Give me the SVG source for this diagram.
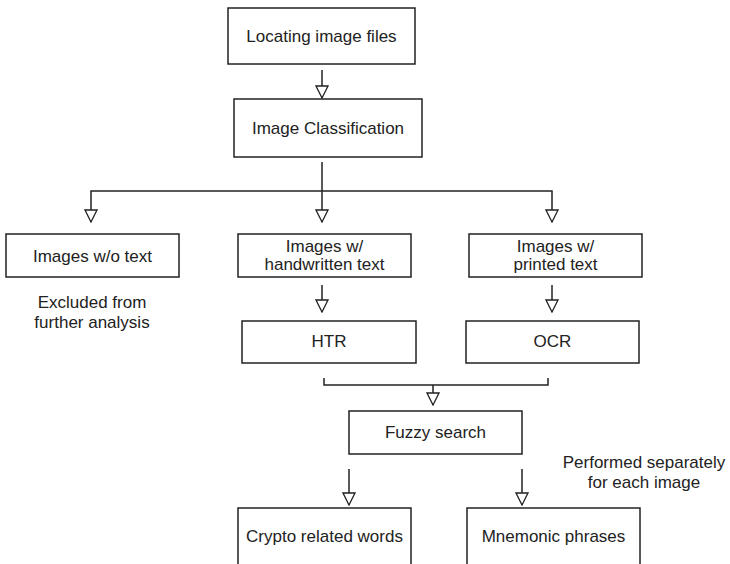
<svg xmlns="http://www.w3.org/2000/svg" width="730" height="564" viewBox="0 0 730 564">
<style>
.box{fill:#fff;stroke:#222;stroke-width:1.5}
.t{font-family:"Liberation Sans",Arial,sans-serif;font-size:17px;fill:#222;text-anchor:middle}
.c{fill:none;stroke:#222;stroke-width:1.5}
.a{marker-end:url(#arr)}
</style>
<defs>
<marker id="arr" markerUnits="userSpaceOnUse" markerWidth="14" markerHeight="14" viewBox="0 0 14 14" refX="13" refY="7" orient="auto">
<path d="M1,1 L13,7 L1,13 Z" fill="#fff" stroke="#222" stroke-width="1.3"/>
</marker>
</defs>
<rect width="730" height="564" fill="#fff"/>
<g id="connectors">
<line class="c a" x1="322" y1="70" x2="322" y2="98"/>
<line class="c a" x1="322" y1="162" x2="322" y2="222"/>
<polyline class="c a" points="322,191 91,191 91,222"/>
<polyline class="c a" points="322,191 552,191 552,222"/>
<line class="c a" x1="322" y1="285" x2="322" y2="312"/>
<line class="c a" x1="552" y1="285" x2="552" y2="312"/>
<polyline class="c" points="324,378 324,385 548,385 548,378"/>
<line class="c a" x1="433" y1="385" x2="433" y2="405"/>
<line class="c a" x1="349" y1="469" x2="349" y2="505"/>
<line class="c a" x1="522" y1="469" x2="522" y2="505"/>
</g>
<g id="locating">
<rect class="box" x="228" y="8" width="187" height="56"/>
<text class="t" x="321.5" y="42">Locating image files</text>
</g>
<g id="classification">
<rect class="box" x="234" y="99" width="188" height="58"/>
<text class="t" x="328" y="134">Image Classification</text>
</g>
<g id="no-text">
<rect class="box" x="6" y="234" width="173" height="43"/>
<text class="t" x="92.5" y="262">Images w/o text</text>
</g>
<g id="excluded-note">
<text class="t" x="92" y="308">Excluded from</text>
<text class="t" x="92" y="328">further analysis</text>
</g>
<g id="handwritten">
<rect class="box" x="238" y="234" width="173" height="43"/>
<text class="t" x="324.5" y="252">Images w/</text>
<text class="t" x="324.5" y="270">handwritten text</text>
</g>
<g id="printed">
<rect class="box" x="469" y="234" width="173" height="43"/>
<text class="t" x="555.5" y="252">Images w/</text>
<text class="t" x="555.5" y="270">printed text</text>
</g>
<g id="htr">
<rect class="box" x="242" y="321" width="174" height="42"/>
<text class="t" x="329" y="347">HTR</text>
</g>
<g id="ocr">
<rect class="box" x="466" y="321" width="173" height="42"/>
<text class="t" x="552.5" y="347">OCR</text>
</g>
<g id="fuzzy">
<rect class="box" x="349" y="411" width="173" height="43"/>
<text class="t" x="435.5" y="438">Fuzzy search</text>
</g>
<g id="performed-note">
<text class="t" x="644" y="468">Performed separately</text>
<text class="t" x="644" y="488">for each image</text>
</g>
<g id="crypto">
<rect class="box" x="238" y="508" width="173" height="70"/>
<text class="t" x="324.5" y="542">Crypto related words</text>
</g>
<g id="mnemonic">
<rect class="box" x="467" y="508" width="173" height="70"/>
<text class="t" x="553.5" y="542">Mnemonic phrases</text>
</g>
</svg>
